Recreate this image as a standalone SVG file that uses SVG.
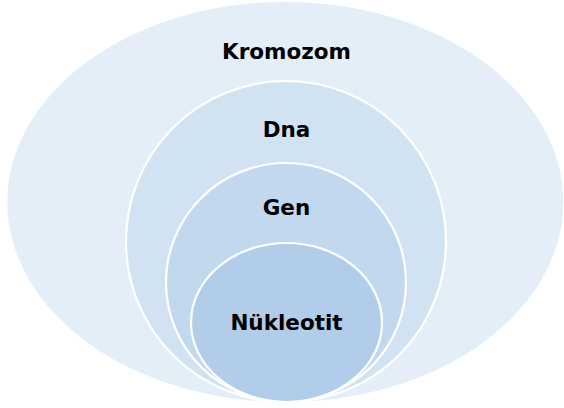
<svg xmlns="http://www.w3.org/2000/svg" width="564" height="408" viewBox="0 0 564 408">
<style>
.ring{stroke:#FFFFFF;stroke-width:2.2}
.lbl{font-family:"DejaVu Sans","Liberation Sans",sans-serif;font-weight:bold;font-size:21.5px;fill:#000000;text-anchor:middle}
</style>
<rect width="564" height="408" fill="#FFFFFF"/>
<g id="kromozom">
<ellipse cx="285.3" cy="202" rx="278" ry="200" fill="#E4EEF8"/>
<text class="lbl" x="286.5" y="58.8">Kromozom</text>
</g>
<g id="dna">
<ellipse class="ring" cx="286" cy="241.5" rx="160" ry="160.5" fill="#D1E2F2"/>
<text class="lbl" x="286.5" y="137">Dna</text>
</g>
<g id="gen">
<ellipse class="ring" cx="286" cy="282.5" rx="120" ry="119.5" fill="#C2D8EE"/>
<text class="lbl" x="286.5" y="214.5">Gen</text>
</g>
<g id="nukleotit">
<ellipse class="ring" cx="286.5" cy="322.5" rx="95.5" ry="79.5" fill="#B1CDE9"/>
<text class="lbl" x="286.5" y="329.8">Nükleotit</text>
</g>
<g id="connectors"></g>
</svg>
